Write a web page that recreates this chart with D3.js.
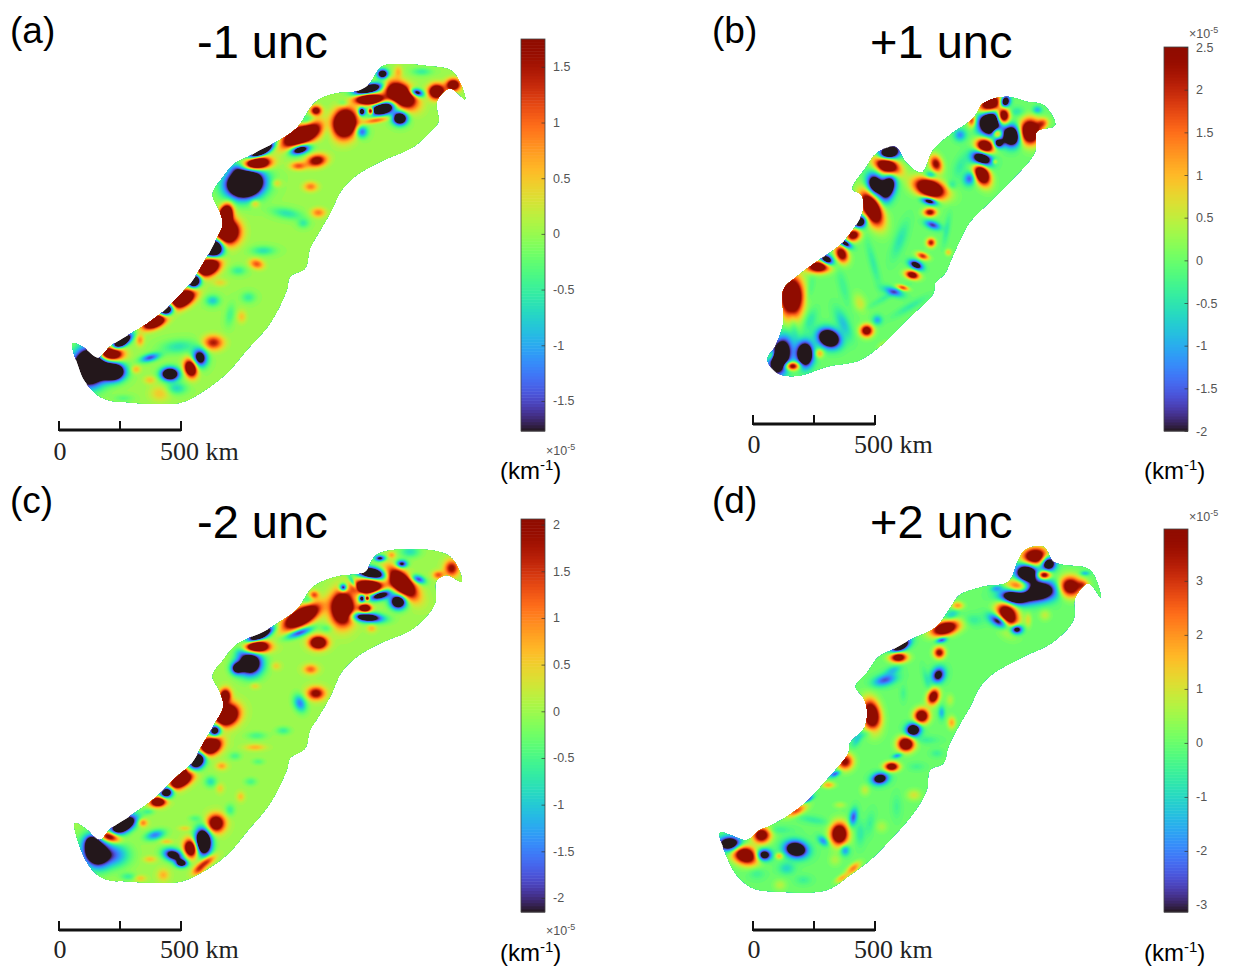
<!DOCTYPE html>
<html><head><meta charset="utf-8">
<script src="https://cdn.jsdelivr.net/npm/d3@7"></script>
<style>html,body{margin:0;padding:0;background:#fff}svg{display:block}</style>
</head><body><svg id="chart" width="1236" height="972"></svg>
<script>
// Map outlines, in map grid units
const outlineA=[[38,850],[70,862],[115,893],[150,860],[210,822],[240,805],[290,770],[330,735],[395,665],[430,610],[465,545],[488,495],[480,455],[458,403],[490,350],[525,310],[565,290],[600,270],[660,240],[710,205],[768,125],[830,100],[885,95],[925,75],[965,20],[1010,12],[1100,18],[1178,35],[1215,118],[1170,85],[1130,125],[1135,185],[1110,215],[1060,260],[960,305],[890,345],[845,390],[810,460],[775,520],[750,565],[735,625],[690,650],[680,690],[630,790],[560,870],[500,940],[420,1000],[360,1028],[220,1028],[130,1015],[75,965],[55,920]];
const outlineB=[[22,808],[45,770],[70,700],[70,600],[110,560],[170,515],[240,465],[285,410],[310,360],[305,315],[278,297],[320,230],[350,190],[405,170],[440,220],[485,248],[520,180],[570,135],[640,85],[670,40],[740,20],[800,35],[850,45],[885,105],[830,125],[825,185],[760,265],[690,335],[630,395],[600,450],[575,505],[555,550],[525,580],[520,610],[440,690],[370,760],[300,810],[200,830],[110,858],[50,848]];
const outlineC=[[45,850],[75,865],[120,900],[150,868],[215,825],[290,770],[345,715],[395,670],[430,610],[465,550],[490,500],[480,455],[458,408],[490,360],[525,318],[565,295],[610,275],[660,245],[710,210],[760,140],[830,110],[870,105],[915,95],[950,45],[1050,28],[1170,50],[1205,125],[1160,105],[1128,125],[1125,190],[1060,265],[960,310],[890,350],[845,395],[810,470],[775,530],[750,570],[735,625],[690,655],[680,690],[630,790],[560,875],[500,945],[420,1000],[360,1025],[220,1025],[130,1015],[80,965]];
const outlineD=[[30,878],[60,885],[110,900],[150,870],[175,860],[230,830],[290,785],[355,715],[415,640],[420,610],[465,560],[470,500],[458,470],[437,440],[470,400],[505,352],[545,330],[600,300],[680,260],[720,205],[750,165],[820,140],[895,125],[925,60],[945,30],[1000,20],[1030,65],[1060,75],[1140,90],[1172,172],[1135,130],[1095,175],[1090,240],[1030,305],[940,350],[850,400],[810,440],[780,500],[745,560],[715,620],[700,670],[660,690],[650,750],[610,820],[540,900],[480,960],[420,1005],[350,1050],[210,1055],[130,1045],[80,1005],[55,960]];

// Anomaly features: centre x, centre y, half-axis a, half-axis b, bearing (deg), amplitude (1e-5 km^-1)
const featuresA=[[90,920,40,45,20,-5],[160,935,28,22,0,-4],[185,845,28,12,-35,-4],[330,942,22,16,0,-3.5],[420,893,18,22,-10,-2.5],[270,893,25,10,-15,-1.5],[320,750,22,14,-35,-4],[403,663,15,18,30,-4],[462,565,22,25,30,-4.5],[555,370,45,35,-10,-5],[605,272,35,12,-30,-4],[720,268,25,12,-15,-3],[925,88,35,12,-15,-4],[968,145,30,16,-15,-4],[1020,175,18,16,0,-3.5],[905,155,8,10,0,-3],[905,215,15,15,0,-1.5],[968,42,14,12,0,-3],[1070,98,18,10,15,-2.5],
[148,880,30,18,5,4],[285,783,30,15,-25,4],[365,718,35,18,-30,4],[445,620,30,20,-30,4],[392,925,15,22,-15,3],[460,848,25,18,0,1.5],[500,515,30,30,-30,4],[497,465,15,25,15,4],[590,310,32,15,-5,4],[725,225,50,22,-25,4],[855,190,28,35,10,4],[768,152,14,12,0,2],[770,302,25,15,-10,2],[715,318,20,10,0,1.1],[930,118,35,13,0,4],[1022,105,40,25,35,4],[932,153,6,8,0,3],[950,180,32,7,-10,1.2],[1130,95,20,18,0,3],[1180,75,18,15,0,2.5],[590,612,18,12,15,1.1],[752,380,18,12,0,.9],[775,458,18,12,0,.9],[585,430,12,10,0,.7],[650,370,12,10,0,.5],[228,928,12,10,0,.6],[270,960,15,10,0,.5],[240,840,10,15,0,.8],[545,770,12,16,0,.5],[300,1000,25,20,0,.5],[480,668,18,10,0,.4],
[680,460,40,14,10,-.6],[730,490,15,12,0,-.5],[610,572,30,12,0,-.6],[535,632,20,12,0,-.5],[458,722,18,14,0,-.8],[565,712,18,14,0,-.5],[510,765,12,30,10,-.4],[355,860,45,18,-5,-.6],[350,985,25,15,0,-.7],[850,130,15,10,0,-.5],[800,205,15,25,0,-.4],[1085,35,25,10,0,-.5],[1015,35,10,15,0,.6],[740,185,20,15,-30,-.8],[530,325,20,15,0,-.6],[190,1015,25,10,0,-.3]];
const featuresB=[[60,800,25,45,15,-4.5],[135,793,20,30,0,-4.5],[207,745,28,22,25,-4.5],[345,285,20,28,-15,-3.5],[385,290,18,35,15,-3.5],[385,190,28,18,-20,-4.5],[300,395,18,15,-30,-3.5],[255,460,18,9,30,-3],[200,510,18,12,30,-3.5],[508,333,20,9,15,-3],[518,405,20,10,20,-1.8],[468,525,18,10,25,-3],[400,605,25,10,20,-1.5],[665,205,25,22,20,-4.5],[630,265,15,18,30,-1.6],[690,95,28,35,0,-5],[735,35,12,15,20,-4],[755,138,22,25,0,-4.5],[715,160,12,12,0,-3],[600,135,15,15,0,-1.2],[512,255,15,10,0,-1.2],[832,60,12,10,0,-1],[352,690,12,12,0,-1],[250,700,15,40,-25,-.8],[150,690,15,30,20,-.5],
[95,620,28,50,0,4.5],[380,225,35,20,30,4.5],[335,355,22,45,-25,4.5],[175,530,30,15,0,3.5],[245,492,15,22,-25,3],[280,435,18,15,-20,3],[510,295,40,22,20,4.5],[510,367,16,10,0,2.5],[528,222,15,22,-20,2.5],[513,458,11,11,0,2.2],[488,498,16,8,20,2],[457,555,18,10,15,3],[428,593,15,6,15,2],[320,722,16,15,0,3],[97,828,18,10,0,3],[178,790,11,11,0,1.2],[35,795,8,15,30,1.5],[675,170,23,20,25,4.5],[665,250,18,30,-25,4.5],[690,45,30,22,-30,4.5],[730,78,15,20,0,4],[712,130,12,12,0,2.5],[810,125,25,30,0,4.5],[848,100,15,12,-30,1.5],[635,90,10,18,0,2],[705,215,6,6,0,1],[565,487,8,8,0,.9],[300,640,15,25,-20,.6],[370,765,15,8,-30,.5],
[100,700,10,50,-10,-.4],[250,590,12,50,-15,-.3],[420,450,15,50,20,-.5],[560,420,8,40,10,-.4],[600,230,15,30,20,-.4],[770,65,20,12,0,-.5],[450,650,50,10,-30,-.4],[150,600,10,40,10,-.3],[380,620,60,8,-30,-.3],[575,285,12,12,0,-.5],[340,520,10,60,-15,-.4]];
const featuresC=[[105,935,30,38,-20,-4],[95,905,15,15,0,-1.5],[160,945,40,30,0,-1.5],[190,855,35,18,-30,-4.5],[340,945,25,15,15,-3],[365,970,15,10,0,-3],[430,905,20,32,-5,-5],[285,885,25,12,-15,-1.5],[320,757,18,14,-35,-4],[412,660,18,24,30,-4.5],[465,572,14,16,30,-3.5],[570,370,30,30,0,-4],[530,385,15,15,0,-2.5],[600,285,35,12,-28,-4.5],[718,278,35,10,-20,-2],[935,100,35,15,10,-4.5],[960,165,28,12,-15,-3.5],[1015,185,20,18,0,-4],[850,143,10,10,0,-3],[920,232,40,12,5,-3.5],[905,175,8,10,0,-3],[960,55,14,8,0,-2.5],[1025,72,14,10,0,-2.5],[1075,118,18,10,20,-2],[720,490,15,22,-20,-1.5],[880,130,6,20,-30,-1.5],
[148,890,25,12,15,3],[295,785,20,12,-5,3.5],[362,722,33,16,-30,4],[370,695,10,8,-40,2],[450,618,28,20,-25,4.5],[392,925,16,22,-10,3.5],[468,850,22,22,0,3],[500,525,30,25,-30,4.5],[495,468,14,18,10,3],[590,320,30,14,0,4.5],[725,230,48,20,-30,4.5],[848,205,28,40,0,4.5],[762,165,12,10,0,1.5],[775,308,22,16,0,3.5],[925,140,35,18,0,4.5],[1025,130,45,22,45,4.5],[915,205,15,10,0,3.5],[922,175,5,5,0,3],[768,460,22,16,0,2.2],[752,388,18,12,0,1.2],[1135,105,14,10,0,1.3],[1175,85,18,20,0,2],[440,965,25,10,-35,1.8],[415,990,18,10,-35,1.2],[935,265,12,10,0,.7],[995,45,10,8,0,.8],[585,622,25,8,0,.7],[485,678,14,10,0,.8],[648,378,12,10,0,.5],[248,848,12,10,0,1.2],[585,438,12,8,0,.5],[480,745,10,12,0,.5],[542,770,10,12,0,.6],[270,958,16,8,0,.6],[320,905,15,6,0,.6],[310,1005,15,15,0,.7],[240,1015,15,8,0,.6],[375,865,15,6,0,.5],
[590,587,25,10,0,-.5],[670,572,18,10,0,-.6],[525,648,15,10,0,-.5],[595,665,15,8,0,-.4],[452,725,15,14,0,-.8],[572,725,15,10,0,-.5],[510,810,12,15,0,-.6],[405,835,15,8,0,-.4],[1050,35,25,15,0,-.8],[800,265,15,10,0,-.5],[205,1010,20,10,0,-.6],[265,815,15,8,0,-.5],[745,180,18,14,-30,-.7],[540,335,15,15,0,-.5]];
const featuresD=[[60,912,28,18,0,-6],[162,945,18,14,0,-5],[258,928,28,20,10,-6],[340,903,16,10,40,-2],[510,716,20,14,-10,-5],[562,647,12,6,-15,-2],[610,570,18,16,-20,-6],[685,405,16,20,25,-4],[572,318,25,12,-30,-6],[375,702,14,7,-25,-2.5],[295,778,15,6,-30,-2.5],[430,832,10,22,10,-2.5],[405,930,12,14,0,-2],[695,300,14,7,-15,-3],[525,420,30,14,-15,-2.5],[550,390,20,10,-20,-1.2],[695,518,8,16,0,-1.5],[870,245,28,14,30,-5],[920,268,15,12,0,-5],[910,170,35,20,0,-6],[975,155,55,25,-5,-6.5],[950,100,28,25,0,-6.5],[1015,70,18,18,0,-6],[1125,100,12,6,0,-1.5],[230,985,20,15,0,-1],[860,145,15,8,-10,-1.5],[725,225,20,12,-30,-1.2],
[105,945,32,22,20,6],[155,885,22,20,-10,5],[208,948,10,8,0,1.8],[258,812,28,12,-25,2.8],[355,735,16,8,0,1.8],[405,665,20,20,-30,4],[388,882,22,28,0,6],[545,680,18,11,0,5],[588,612,20,18,0,6],[635,528,18,18,0,5.5],[670,470,14,20,20,5],[688,338,14,14,20,4],[565,352,22,12,0,5],[705,265,35,17,-15,6],[743,197,15,10,0,2],[484,525,22,38,-10,6],[725,548,10,15,0,1.8],[930,145,32,22,10,6],[892,225,25,38,-20,6],[975,50,32,22,-5,6],[1002,105,16,10,0,5],[1080,140,28,25,0,5.5],[1120,135,14,12,0,2],[955,240,8,18,0,1],[1005,225,14,14,0,.8],[430,985,22,10,-40,2.2],[395,1015,18,8,-30,1.6],[612,765,18,14,0,1],[465,750,12,14,0,.8],[390,795,15,8,0,.7],[720,480,10,15,0,.7],[210,1035,16,14,0,.7],[515,860,15,15,0,.6],[375,960,15,15,0,.6],
[650,600,30,10,0,-.5],[450,880,12,30,0,-.7],[480,850,12,30,10,-.5],[680,640,15,10,0,-.5],[620,680,20,10,0,-.4],[560,800,12,30,0,-.4],[200,870,40,10,0,-.5],[310,840,40,10,10,-.6],[140,1000,20,15,0,-.5],[280,1020,20,12,0,-.5],[470,580,30,10,-20,-.6],[790,240,25,15,0,-.6],[440,600,10,20,30,-1],[650,420,8,30,-15,-.6],[580,460,8,20,0,-.4]];

// Colour-bar ranges and ticks (1e-5 km^-1)
const rangeA=[-1.77,1.75], ticksA=[-1.5,-1,-.5,0,.5,1,1.5];
const rangeB=[-2,2.5],     ticksB=[-2,-1.5,-1,-.5,0,.5,1,1.5,2,2.5];
const rangeC=[-2.15,2.06], ticksC=[-2,-1.5,-1,-.5,0,.5,1,1.5,2];
const rangeD=[-3.13,3.96], ticksD=[-3,-2,-1,0,1,2,3];
const panelLetters=["(a)","(b)","(c)","(d)"];
const panelTitles=["-1 unc","+1 unc","-2 unc","+2 unc"];
const scaleLengthKm=500, scaleTickKm=[0,250,500], scaleLabels=["0","500 km"];

// Layout only
const layouts=[
 {letter:[10,43],title:[197,58],map:[60,60,420,350],grid:[1260,1050],bar:[521,39,431],exp:[546,455],unit:[500,479],sb:[59,430,60,460]},
 {letter:[712,43],title:[870,58],map:[760,90,310,290],grid:[930,870],bar:[1164,47,431],exp:[1189,38],unit:[1144,479],sb:[753,424,754,453]},
 {letter:[10,513],title:[197,538],map:[60,540,420,350],grid:[1260,1050],bar:[521,519,912],exp:[546,935],unit:[500,961],sb:[59,930,60,958]},
 {letter:[712,513],title:[870,538],map:[710,540,400,360],grid:[1200,1080],bar:[1164,529,912],exp:[1189,521],unit:[1144,961],sb:[753,930,754,958]}
];
const outlines=[outlineA,outlineB,outlineC,outlineD], features=[featuresA,featuresB,featuresC,featuresD];
const ranges=[rangeA,rangeB,rangeC,rangeD], ticks=[ticksA,ticksB,ticksC,ticksD];
const kmPx=d3.scaleLinear().domain([0,scaleLengthKm]).range([0,122]);

const svg=d3.select("#chart");
const defs=svg.append("defs");
const SANS="'Liberation Sans',Arial,sans-serif", SERIF="'Liberation Serif','Times New Roman',serif";

function fieldAt(fs,x,y){
  let v=0;
  for(const f of fs){
    const t=f[4]*Math.PI/180,c=Math.cos(t),s=Math.sin(t);
    const dx=x-f[0],dy=y-f[1];
    const u=(dx*c+dy*s)/(f[2]*.82),w=(-dx*s+dy*c)/(f[3]*.82);
    const q=u*u+w*w;
    if(q<14) v+=f[5]*Math.exp(-q/2);
  }
  return v;
}

layouts.forEach((L,i)=>{
  const [mx,my,mw,mh]=L.map,[gw,gh]=L.grid;
  const x=d3.scaleLinear().domain([0,gw]).range([mx,mx+mw]);
  const y=d3.scaleLinear().domain([0,gh]).range([my,my+mh]);
  const color=d3.scaleSequential(d3.interpolateTurbo).domain(ranges[i]).clamp(true);
  const g=svg.append("g").attr("class","panel");

  const outlinePath=d3.line().x(d=>x(d[0])).y(d=>y(d[1])).curve(d3.curveCatmullRomClosed.alpha(.5));
  const clipId="clip"+i;
  defs.append("clipPath").attr("id",clipId).append("path").attr("d",outlinePath(outlines[i]));

  // Gridded field -> filled contours
  const step=3, nx=Math.ceil(gw/step)+1, ny=Math.ceil(gh/step)+1;
  const vals=new Float64Array(nx*ny);
  for(let r=0;r<ny;r++)for(let c=0;c<nx;c++) vals[r*nx+c]=fieldAt(features[i],c*step,r*step);
  const [lo,hi]=ranges[i];
  const levels=d3.range(0,64).map(k=>lo+(hi-lo)*k/64);
  const bands=d3.contours().size([nx,ny]).thresholds(levels)(vals);
  const proj=d3.geoTransform({point(px,py){this.stream.point(x((px-.5)*step),y((py-.5)*step));}});
  const geo=d3.geoPath(proj);
  g.append("g").attr("clip-path",`url(#${clipId})`)
    .call(s=>s.append("path").attr("d",outlinePath(outlines[i])).attr("fill",color(lo)))
    .selectAll(".band").data(bands).join("path").attr("class","band")
    .attr("d",geo).attr("fill",d=>color(d.value+(hi-lo)/128));

  // Colour bar
  const [bx,bt,bb]=L.bar, bw=24;
  const cy=d3.scaleLinear().domain(ranges[i]).range([bb,bt]);
  const barG=g.append("g").attr("class","colorbar");
  barG.selectAll("rect.cell").data(d3.range(0,128)).join("rect").attr("class","cell")
    .attr("x",bx).attr("width",bw)
    .attr("y",k=>cy(lo+(hi-lo)*(k+1)/128)).attr("height",k=>cy(lo+(hi-lo)*k/128)-cy(lo+(hi-lo)*(k+1)/128)+.5)
    .attr("fill",k=>color(lo+(hi-lo)*(k+.5)/128));
  barG.append("rect").attr("x",bx).attr("y",bt).attr("width",bw).attr("height",bb-bt)
    .attr("fill","none").attr("stroke","#444").attr("stroke-width",.8);
  const ax=d3.axisRight(cy).tickValues(ticks[i]).tickSize(-3.5).tickPadding(8).tickFormat(String);
  const axG=barG.append("g").attr("transform",`translate(${bx+bw},0)`).call(ax);
  axG.select(".domain").remove();
  axG.selectAll("line").attr("stroke","#333").attr("stroke-width",.7);
  axG.selectAll("text").attr("font-family",SANS).attr("font-size",12.5).attr("fill","#555");

  // Exponent
  const ex=g.append("text").attr("x",L.exp[0]).attr("y",L.exp[1]).attr("font-family",SANS).attr("font-size",12.5).attr("fill","#555");
  ex.append("tspan").text("×10");
  ex.append("tspan").attr("dy",-5).attr("font-size",9).text("-5");

  // Unit
  const un=g.append("text").attr("x",L.unit[0]).attr("y",L.unit[1]).attr("font-family",SANS).attr("font-size",24).attr("fill","#000");
  un.append("tspan").text("(km");
  un.append("tspan").attr("dy",-9).attr("font-size",15).text("-1");
  un.append("tspan").attr("dy",9).text(")");

  // Panel letter and title
  g.append("text").attr("x",L.letter[0]).attr("y",L.letter[1]).attr("font-family",SANS).attr("font-size",37).text(panelLetters[i]);
  g.append("text").attr("x",L.title[0]).attr("y",L.title[1]).attr("font-family",SANS).attr("font-size",47).text(panelTitles[i]);

  // Scale bar
  const [sx,sy,lx,ly]=L.sb;
  const sb=g.append("g").attr("class","scalebar").attr("transform",`translate(${sx},${sy})`);
  sb.append("line").attr("x1",kmPx(0)).attr("x2",kmPx(scaleLengthKm)).attr("y1",0).attr("y2",0).attr("stroke","#111").attr("stroke-width",3);
  sb.selectAll("line.t").data(scaleTickKm).join("line").attr("class","t")
    .attr("x1",d=>kmPx(d)).attr("x2",d=>kmPx(d)).attr("y1",1).attr("y2",-9).attr("stroke","#111").attr("stroke-width",2);
  g.append("text").attr("x",lx).attr("y",ly).attr("text-anchor","middle").attr("font-family",SERIF).attr("font-size",26).attr("fill","#222").text(scaleLabels[0]);
  g.append("text").attr("x",lx+100).attr("y",ly).attr("font-family",SERIF).attr("font-size",26).attr("fill","#222").text(scaleLabels[1]);
});
</script></body></html>
